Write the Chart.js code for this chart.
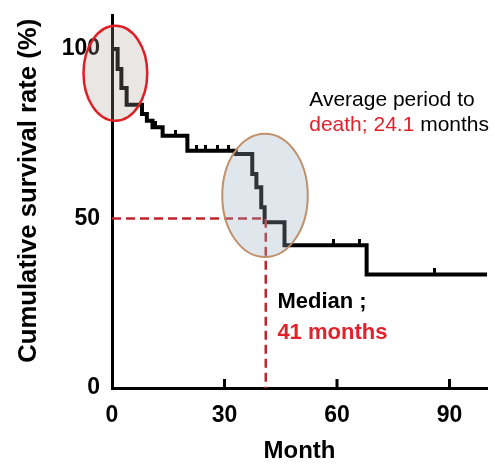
<!DOCTYPE html>
<html>
<head>
<meta charset="utf-8">
<script src="https://cdn.jsdelivr.net/npm/chart.js@4/dist/chart.umd.min.js"></script>
<style>
  html, body { margin: 0; padding: 0; background: #fff; }
  #c { display: block; }
</style>
</head>
<body>
<canvas id="c" width="495" height="467"></canvas>
<script>
// ---- Data ----
const months   = [0, 1.5, 2.5, 3.9, 8.0, 9.3, 10.8, 13.5, 20.1, 33.0, 37.4, 38.5, 39.8, 40.7, 46.0, 67.9, 100];
const survival = [100, 94.1, 88.5, 83.5, 80.8, 78.8, 76.9, 74.4, 70.0, 69.0, 63.1, 59.2, 53.3, 48.9, 42.1, 33.5, 33.5];
const censorMonths   = [11.7, 17.0, 22.6, 25.0, 28.0, 31.0, 59.1, 66.0, 86.0];
const censorSurvival = [76.9, 74.4, 70.0, 70.0, 70.0, 70.0, 42.1, 42.1, 33.5];
const medianMonth = 41;
const medianRate = 50;
const xTicks = [0, 30, 60, 90];
const yTicks = [0, 50, 100];

const FONT = "'Liberation Sans', Arial, Helvetica, sans-serif";
const RED = '#e1222b';

const stepData = months.map((m, i) => ({ x: m, y: survival[i] }));
const censorData = censorMonths.map((m, i) => ({ x: m, y: censorSurvival[i] }));
const medianData = [{ x: 0, y: medianRate }, { x: medianMonth, y: medianRate }, { x: medianMonth, y: 0 }];

// censor mark glyph: small vertical stroke rising above the point
const tickImg = document.createElement('canvas');
tickImg.width = 3; tickImg.height = 12;
(function () {
  const g = tickImg.getContext('2d');
  g.fillStyle = '#000';
  g.fillRect(0, 0, 3, 6);
})();

const overlayPlugin = {
  id: 'overlay',
  afterDatasetsDraw(chart) {
    const { ctx, scales: { x, y } } = chart;
    const ellipses = [
      { cx: 0.9, cy: 92.8, rx: 8.5, ry: 14.0, fill: 'rgba(170,157,147,0.26)', stroke: '#df1f26', lw: 2.5 },
      { cx: 40.8, cy: 56.8, rx: 11.4, ry: 18.2, fill: 'rgba(150,175,195,0.30)', stroke: '#c0906a', lw: 2 }
    ];
    ellipses.forEach(e => {
      const px = x.getPixelForValue(e.cx), py = y.getPixelForValue(e.cy);
      const rx = x.getPixelForValue(e.cx + e.rx) - px;
      const ry = py - y.getPixelForValue(e.cy + e.ry);
      ctx.save();
      ctx.beginPath();
      ctx.ellipse(px, py, rx, ry, 0, 0, Math.PI * 2);
      ctx.fillStyle = e.fill;
      ctx.fill();
      ctx.lineWidth = e.lw;
      ctx.strokeStyle = e.stroke;
      ctx.stroke();
      ctx.restore();
    });
  },
  afterDraw(chart) {
    const { ctx, scales: { x, y } } = chart;
    ctx.save();
    ctx.strokeStyle = '#000';
    ctx.lineWidth = 3;
    xTicks.filter(v => v > 0).forEach(v => {
      const px = x.getPixelForValue(v);
      ctx.beginPath();
      ctx.moveTo(px, y.bottom);
      ctx.lineTo(px, y.bottom - 9);
      ctx.stroke();
    });
    ctx.restore();

    ctx.save();
    ctx.textBaseline = 'alphabetic';
    ctx.textAlign = 'left';
    const ax = x.getPixelForValue(52.6), ay = y.getPixelForValue(83.2);
    ctx.font = '21px ' + FONT;
    ctx.fillStyle = '#000';
    ctx.fillText('Average period to', ax, ay);
    const ay2 = ay + 25;
    ctx.fillStyle = RED;
    const redPart = 'death; 24.1';
    ctx.fillText(redPart, ax, ay2);
    const w = ctx.measureText(redPart).width;
    ctx.fillStyle = '#000';
    ctx.fillText(' months', ax + w, ay2);

    const mx = x.getPixelForValue(44.1), my = y.getPixelForValue(23.5);
    ctx.font = 'bold 22px ' + FONT;
    ctx.fillStyle = '#000';
    ctx.fillText('Median ;', mx, my);
    ctx.fillStyle = RED;
    ctx.fillText('41 months', mx, my + 31);
    ctx.restore();
  }
};

new Chart(document.getElementById('c'), {
  type: 'line',
  data: {
    datasets: [
      {
        label: 'Median',
        data: medianData,
        borderColor: '#c0242e',
        borderWidth: 2.5,
        borderDash: [9, 5],
        pointRadius: 0,
        fill: false,
        tension: 0,
        clip: false
      },
      {
        label: 'Survival',
        data: stepData,
        stepped: true,
        borderColor: '#000',
        borderWidth: 4,
        pointRadius: 0,
        fill: false,
        clip: false
      },
      {
        label: 'Censored',
        type: 'scatter',
        data: censorData,
        showLine: false,
        pointStyle: tickImg,
        pointRadius: 6,
        clip: false
      }
    ]
  },
  options: {
    responsive: false,
    animation: false,
    events: [],
    layout: { padding: { left: 0, right: 8, top: 15, bottom: 0 } },
    plugins: { legend: { display: false }, tooltip: { enabled: false } },
    scales: {
      x: {
        type: 'linear',
        min: 0, max: 100,
        afterBuildTicks: s => { s.ticks = xTicks.map(v => ({ value: v })); },
        afterFit: s => { s.height = 79; s.paddingLeft = 0; s.paddingRight = 0; },
        grid: { display: false, drawTicks: false },
        border: { display: true, color: '#000', width: 3 },
        ticks: { color: '#000', font: { family: FONT, size: 23, weight: 'bold' }, padding: 14, maxRotation: 0, autoSkip: false },
        title: { display: true, text: 'Month', color: '#000', font: { family: FONT, size: 24, weight: 'bold' }, padding: { top: 0, bottom: 1 } }
      },
      y: {
        type: 'linear',
        min: 0, max: 110,
        afterBuildTicks: s => { s.ticks = yTicks.map(v => ({ value: v })); },
        afterFit: s => { s.width = 112; s.paddingTop = 0; s.paddingBottom = 0; },
        grid: { display: false, drawTicks: false },
        border: { display: true, color: '#000', width: 3 },
        ticks: { color: '#000', font: { family: FONT, size: 23, weight: 'bold' }, padding: 12, autoSkip: false },
        title: { display: true, text: '   Cumulative survival rate (%)', color: '#000', font: { family: FONT, size: 25.7, weight: 'bold' }, padding: { top: 13, bottom: 0 } }
      }
    }
  },
  plugins: [overlayPlugin]
});
</script>
</body>
</html>
